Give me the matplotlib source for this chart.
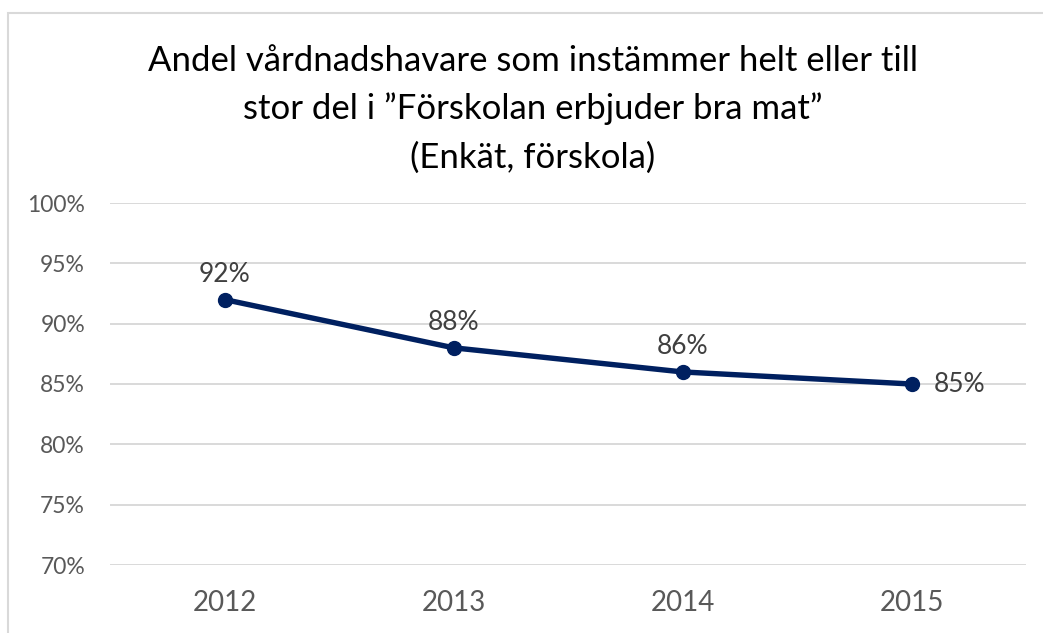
import matplotlib
matplotlib.use("Agg")
import matplotlib.pyplot as plt
from matplotlib.patches import Rectangle
from matplotlib.ticker import PercentFormatter

years = ["2012", "2013", "2014", "2015"]
andel = [0.92, 0.88, 0.86, 0.85]
etiketter = ["92%", "88%", "86%", "85%"]
y_ticks = [0.70, 0.75, 0.80, 0.85, 0.90, 0.95, 1.00]

titel = ("Andel vårdnadshavare som instämmer helt eller till\n"
         "stor del i \u201dFörskolan erbjuder bra mat\u201d\n"
         "(Enkät, förskola)")

plt.rcParams['font.family'] = ['Lato', 'DejaVu Sans']

fig = plt.figure(figsize=(10.43, 6.33), dpi=100)
W, H = 1043, 633

# ram runt diagrammet
fig.patches.append(Rectangle((8 / W, -0.05), 1.1, 1 - 13 / H + 0.05,
                             transform=fig.transFigure, fill=False,
                             edgecolor='#d9d9d9', linewidth=1.5))

ax = fig.add_axes([110 / W, 1 - 565 / H, (1026 - 110) / W, (565 - 203) / H])
x = list(range(len(years)))
ax.plot(x, andel, color='#002060', linewidth=3.9, marker='o', markersize=10,
        solid_capstyle='round', zorder=3, clip_on=False)

ax.set_xlim(-0.5, len(years) - 0.5)
ax.set_ylim(0.70, 1.00)
ax.set_yticks(y_ticks)
ax.yaxis.set_major_formatter(PercentFormatter(1.0, decimals=0))
ax.set_xticks(x)
ax.set_xticklabels(years)
ax.tick_params(axis='y', length=0, pad=18, labelsize=16.5, labelcolor='#595959')
ax.tick_params(axis='x', length=0, pad=18, labelsize=20, labelcolor='#595959')
ax.grid(axis='y', color='#d9d9d9', linewidth=1.4)
ax.set_axisbelow(True)
for s in ax.spines.values():
    s.set_visible(False)

# dataetiketter
for i, (v, t) in enumerate(zip(andel, etiketter)):
    if i == len(andel) - 1:
        ax.annotate(t, (i, v), xytext=(16, 0), textcoords='offset points',
                    ha='left', va='center', fontsize=19, color='#404040')
    else:
        ax.annotate(t, (i, v), xytext=(0, 9), textcoords='offset points',
                    ha='center', va='bottom', fontsize=19, color='#404040')

fig.text(533 / W, 1 - 109 / H, titel, ha='center', va='center',
         fontsize=25, color='#000000', linespacing=1.6)

fig.savefig("out.png", dpi=100)
